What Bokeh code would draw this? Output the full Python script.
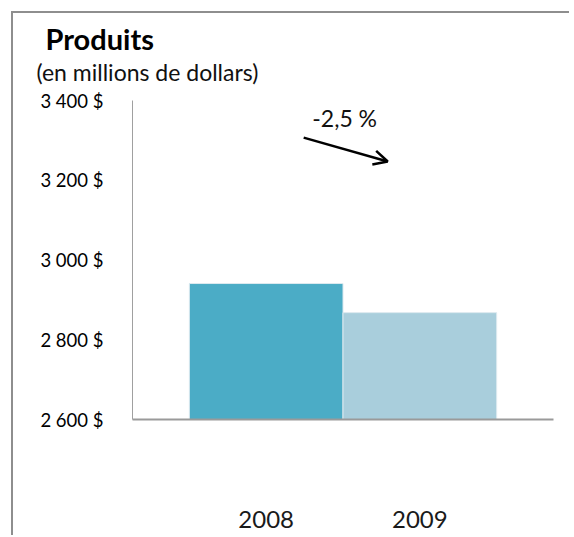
from bokeh.plotting import figure
from bokeh.models import Range1d, FixedTicker, Title, Arrow, OpenHead, Label
from bokeh.embed import file_html
from bokeh.resources import INLINE

# ---- data ----
years = ["2008", "2009"]
revenues = [2941, 2868]
bar_colors = ["#4BACC6", "#A9CEDC"]
y_ticks = [2600, 2800, 3000, 3200, 3400]
y_tick_labels = ["2 600 $", "2 800 $", "3 000 $", "3 200 $", "3 400 $"]
title_text = "Produits"
subtitle_text = "(en millions de dollars)"
change_text = "-2,5 %"
# annotation anchor (x in category index units, y in millions)
change_label_pos = (0.30, 3392)
arrow_from = (0.244, 3307)
arrow_to = (0.791, 3247)

FONT = "Lato"
x_pos = list(range(len(years)))

p = figure(width=558, height=524, output_backend="svg", toolbar_location=None,
           title=None,
           x_range=Range1d(-0.87, 1.87), y_range=Range1d(y_ticks[0], y_ticks[-1]),
           min_border_left=119, min_border_right=18, min_border_top=87,
           min_border_bottom=118)
p.styles = {"position": "relative", "top": "11px", "left": "11px",
            "border-left": "2px solid #8e8e8e", "border-top": "2px solid #8e8e8e"}
p.outline_line_color = None
p.background_fill_color = "white"
p.border_fill_color = "white"
p.grid.visible = False

p.vbar(x=x_pos, top=revenues, bottom=y_ticks[0], width=1.0,
       fill_color=bar_colors, line_color="#dce9ef", line_width=1)

# titles: a blank spacer panel next to the frame, then subtitle, then title
p.add_layout(Title(text=" ", text_font=FONT, text_font_size="10px",
                   standoff=1, align="left"), "above")
p.add_layout(Title(text=subtitle_text, text_font=FONT, text_font_size="23px",
                   text_font_style="normal", text_color="#111111",
                   align="left", offset=-96, standoff=0), "above")
p.add_layout(Title(text=title_text, text_font=FONT, text_font_size="29px",
                   text_font_style="bold", text_color="#000000",
                   align="left", offset=-87, standoff=0), "above")

# y axis
ya = p.yaxis[0]
ya.ticker = FixedTicker(ticks=y_ticks)
ya.major_label_overrides = {t: l for t, l in zip(y_ticks, y_tick_labels)}
ya.major_tick_out = 0
ya.major_tick_in = 0
ya.minor_tick_out = 0
ya.minor_tick_in = 0
ya.axis_line_color = "#a0a0a0"
ya.axis_line_width = 1
ya.major_label_standoff = 29
ya.major_label_text_font = FONT
ya.major_label_text_font_size = "18.5px"
ya.major_label_text_color = "#000000"

# x axis
xa = p.xaxis[0]
xa.ticker = FixedTicker(ticks=x_pos)
xa.major_label_overrides = {i: y for i, y in zip(x_pos, years)}
xa.major_tick_out = 0
xa.major_tick_in = 0
xa.minor_tick_out = 0
xa.minor_tick_in = 0
xa.axis_line_color = "#9a9a9a"
xa.axis_line_width = 2
xa.major_label_standoff = 91
xa.major_label_text_font = FONT
xa.major_label_text_font_size = "24px"
xa.major_label_text_color = "#1a1a1a"

# change annotation
p.add_layout(Label(x=change_label_pos[0], y=change_label_pos[1], text=change_text,
                   text_font=FONT, text_font_size="23px", text_color="#111111",
                   text_baseline="top"))
p.add_layout(Arrow(end=OpenHead(size=14, line_width=2.5, line_color="black"),
                   x_start=arrow_from[0], y_start=arrow_from[1],
                   x_end=arrow_to[0], y_end=arrow_to[1],
                   line_width=2.5, line_color="black"))

open("out.html", "w").write(file_html(p, INLINE))
